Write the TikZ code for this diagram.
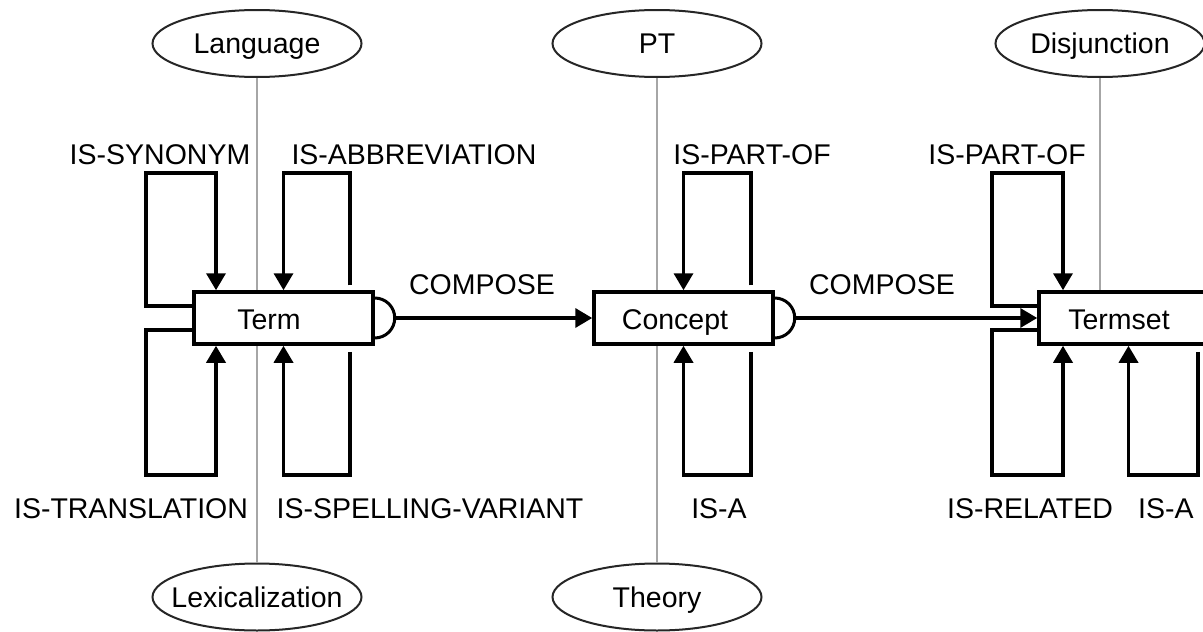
\documentclass[tikz,border=0pt]{standalone}
\usepackage{fontspec}
\setmainfont{Liberation Sans}
\usetikzlibrary{arrows.meta,shapes.geometric,calc}
\tikzset{
  box/.style={draw, line width=3.5pt, fill=white, minimum width=179pt, minimum height=52pt, inner sep=0pt},
  oval/.style={draw=black!85, line width=2pt, ellipse, minimum width=209pt, minimum height=67pt, inner sep=0pt, fill=white, font=\fontsize{28.5}{34}\selectfont, text height=20.4pt, text depth=0pt},
  lbl/.style={inner sep=0pt, font=\fontsize{28.5}{34}\selectfont},
  rel/.style={line width=3.5pt, -{Triangle[length=17pt,width=19pt]}},
  cup/.style={line width=3pt},
  guide/.style={draw=black!35, line width=1.2pt},
}
\begin{document}
\begin{tikzpicture}[x=1pt,y=-1pt]
\clip (0,0) rectangle (1203,632);
\fill[white] (0,0) rectangle (1203,632);
% ellipses
\node[oval] (language) at (257,43.5) {\makebox[0pt]{Language}};
\node[oval] (pt) at (657,43.5) {\makebox[0pt]{PT}};
\node[oval] (disjunction) at (1100,43.5) {\makebox[0pt]{Disjunction}};
\node[oval] (lexicalization) at (257,597) {\makebox[0pt]{Lexicalization}};
\node[oval] (theory) at (657,597) {\makebox[0pt]{Theory}};
% guide lines
\draw[guide] (language.south) -- (lexicalization.north);
\draw[guide] (pt.south) -- (theory.north);
% boxes
\node[box] (term) at (283.5,318) {};
\node[box] (concept) at (683.5,318) {};
\node[box] (termset) at (1128.5,318) {};
\draw[guide] (disjunction.south) -- (disjunction.south |- termset.north);
\node[lbl, anchor=base] (termtxt) at (269,329) {Term};
\node[lbl, anchor=base] (concepttxt) at (675,329) {Concept};
\node[lbl, anchor=base] (termsettxt) at (1119,329) {Termset};
% half circles
\draw[cup] ([yshift=20pt]term.east) arc[start angle=90, end angle=-90, radius=20pt];
\draw[cup] ([yshift=20pt]concept.east) arc[start angle=90, end angle=-90, radius=20pt];
\coordinate (termcup) at ([xshift=20pt]term.east);
\coordinate (conceptcup) at ([xshift=20pt]concept.east);
% compose
\draw[rel] (termcup) -- (concept.west);
\draw[rel] (conceptcup) -- (termset.west);
\node[lbl, anchor=base] (c1) at (482,294) {COMPOSE};
\node[lbl, anchor=base] (c2) at (882,294) {COMPOSE};
% Term loops
\draw[rel] ([yshift=12pt]term.west) -| (146,173) -| ([xshift=-67.5pt]term.north);
\draw[rel] ([xshift=66.5pt,yshift=5pt]term.north) |- (283.5,173) -- (term.north);
\draw[rel] ([yshift=-12pt]term.west) -| (146,475) -| ([xshift=-67.5pt]term.south);
\draw[rel] ([xshift=66.5pt,yshift=-6pt]term.south) |- (283.5,475) -- (term.south);
% Concept loops
\draw[rel] ([xshift=67.5pt,yshift=5pt]concept.north) |- (683.5,173) -- (concept.north);
\draw[rel] ([xshift=67.5pt,yshift=-6pt]concept.south) |- (683.5,475) -- (concept.south);
% Termset loops
\draw[rel] ([yshift=12pt]termset.west) -| (992,173) -| ([xshift=-65.5pt]termset.north);
\draw[rel] ([yshift=-12pt]termset.west) -| (992,475) -| ([xshift=-65.5pt]termset.south);
\draw[rel] ([xshift=69.5pt,yshift=-6pt]termset.south) |- (1128.5,475) -- (termset.south);
% labels
\node[lbl, anchor=base] (l1) at (160,164) {IS-SYNONYM};
\node[lbl, anchor=base] (l2) at (414,164) {IS-ABBREVIATION};
\node[lbl, anchor=base] (l3) at (752,164) {IS-PART-OF};
\node[lbl, anchor=base] (l4) at (1007,164) {IS-PART-OF};
\node[lbl, anchor=base] (l5) at (131,518) {IS-TRANSLATION};
\node[lbl, anchor=base] (l6) at (430,518) {IS-SPELLING-VARIANT};
\node[lbl, anchor=base] (l7) at (719,518) {IS-A};
\node[lbl, anchor=base] (l8) at (1030,518) {IS-RELATED};
\node[lbl, anchor=base west] (l9) at (1138,518) {IS-A};
\end{tikzpicture}
\end{document}
